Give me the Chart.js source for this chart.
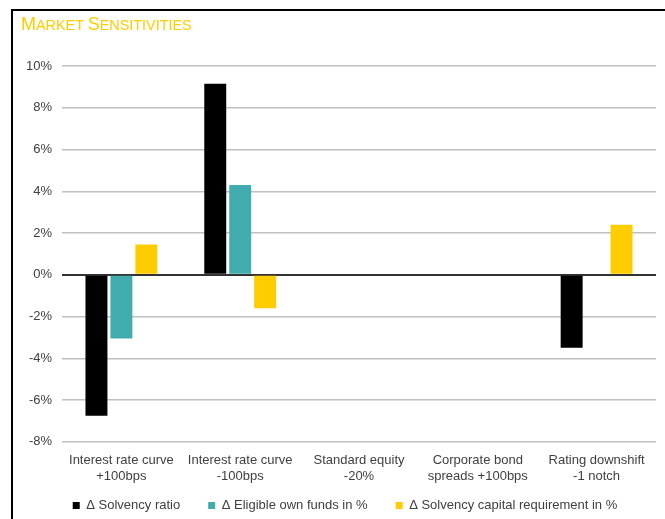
<!DOCTYPE html>
<html>
<head>
<meta charset="utf-8">
<script src="https://cdn.jsdelivr.net/npm/chart.js@4"></script>
<style>
  html, body { margin: 0; padding: 0; background: #fff; }
  #wrap { position: relative; width: 665px; height: 519px; overflow: hidden; }
  #frame {
    position: absolute; left: 11px; top: 9px; width: 700px; height: 560px;
    border: 2px solid #000; box-sizing: border-box;
  }
  #title {
    position: absolute; left: 21px; top: 15px;
    font: 14.4px "Liberation Sans", Arial, sans-serif; line-height: 18px;
    color: #ffcc00; white-space: nowrap;
  }
  #title b { font-weight: normal; font-size: 18px; }
  canvas { position: absolute; left: 0; top: 0; }
</style>
</head>
<body>
<div id="wrap">
  <div id="frame"></div>
  <canvas id="chart" width="665" height="519"></canvas>
  <div id="title"><b>M</b>ARKET <b>S</b>ENSITIVITIES</div>
</div>
<script>
// scenarios on the x axis (two lines each)
var scenarios = [
  ["Interest rate curve", "+100bps"],
  ["Interest rate curve", "-100bps"],
  ["Standard equity", "-20%"],
  ["Corporate bond", "spreads +100bps"],
  ["Rating downshift", "-1 notch"],
];

// changes in %, one value per scenario
var solvencyRatio = [-6.75, 9.15, 0, 0, -3.5];
var ownFunds = [-3.05, 4.3, 0, 0, 0];
var capitalReq = [1.45, -1.6, 0, 0, 2.4];

var yTicks = [10, 8, 6, 4, 2, 0, -2, -4, -6, -8];

var textColor = "#404040";
var baseFont = { family: "'Liberation Sans', Arial, sans-serif", size: 13 };

// legend padding is wide so the items sit far apart; the extra height it
// adds is taken back by the negative bottom padding and the shift below
var legendGap = 28;

var legendShift = {
  id: "legendShift",
  afterLayout: function (chart) {
    var lg = chart.legend;
    lg.left += 11;
    lg.right += 11;
    lg.top -= 16;
    lg.bottom -= 16;
  },
};

var ctx = document.getElementById("chart").getContext("2d");

new Chart(ctx, {
  type: "bar",
  data: {
    labels: scenarios,
    datasets: [
      {
        label: "\u0394 Solvency ratio",
        data: solvencyRatio,
        backgroundColor: "#000000",
      },
      {
        label: "\u0394 Eligible own funds in %",
        data: ownFunds,
        backgroundColor: "#40acad",
      },
      {
        label: "\u0394 Solvency capital requirement in %",
        data: capitalReq,
        backgroundColor: "#ffcc00",
      },
    ],
  },
  plugins: [legendShift],
  options: {
    responsive: false,
    animation: false,
    datasets: {
      bar: {
        barPercentage: 0.88,
        categoryPercentage: 0.63,
      },
    },
    layout: {
      padding: { left: 12, right: 9, top: 66, bottom: -19 },
    },
    plugins: {
      title: { display: false },
      tooltip: { enabled: false },
      legend: {
        display: true,
        position: "bottom",
        labels: {
          boxWidth: 7,
          boxHeight: 7,
          padding: legendGap,
          color: textColor,
          font: baseFont,
        },
      },
    },
    scales: {
      x: {
        grid: { display: false },
        border: { display: false },
        ticks: {
          color: textColor,
          font: baseFont,
          padding: 3,
          maxRotation: 0,
        },
      },
      y: {
        min: -8,
        max: 10,
        afterFit: function (scale) {
          scale.width = 50;
        },
        afterBuildTicks: function (scale) {
          scale.ticks = yTicks.map((v) => ({ value: v }));
        },
        border: { display: false },
        grid: {
          drawTicks: false,
          lineWidth: function (c) {
            return c.tick && c.tick.value === 0 ? 2 : 1.5;
          },
          color: function (c) {
            return c.tick && c.tick.value === 0 ? "#333333" : "#c0c0c0";
          },
          z: -1,
        },
        ticks: {
          color: textColor,
          font: baseFont,
          padding: 10,
          callback: function (v) {
            return v + "%";
          },
        },
      },
    },
  },
});
</script>
</body>
</html>
